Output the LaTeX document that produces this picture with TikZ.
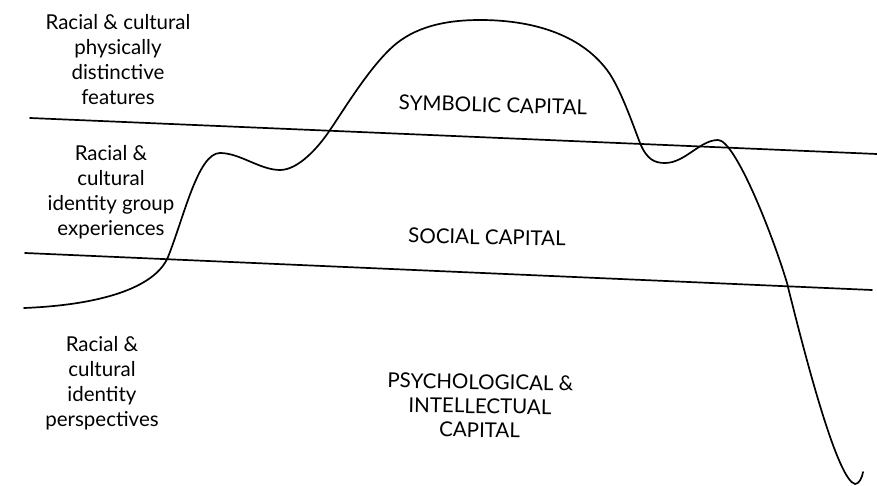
\documentclass[tikz,border=0pt]{standalone}
\usepackage{fontspec}
\setmainfont{Lato}
\begin{document}
\begin{tikzpicture}[x=1pt,y=-1pt,
  sideText/.style={align=center,font=\fontsize{20.5}{25}\selectfont},
  capText/.style={align=center,font=\fontsize{20.5}{24}\selectfont},
  ink/.style={line width=1.7pt,line cap=round,line join=round}]
\useasboundingbox (0,0) rectangle (877,486);
\coordinate (u1) at (30,118);
\coordinate (u2) at (877,154);
\coordinate (l1) at (25,253);
\coordinate (l2) at (872,290);
\draw[ink] (u1) -- (u2);
\draw[ink] (l1) -- (l2);
\draw[ink] (24,308)
  .. controls (100,305) and (155,288) .. (168,257)
  .. controls (184,217) and (198,153) .. (220,153)
  .. controls (240,153) and (260,170) .. (280,170)
  .. controls (298,170) and (318,148) .. (330,130)
  .. controls (345,108) and (372,63) .. (397,43)
  .. controls (420,25) and (450,20) .. (480,20)
  .. controls (530,20) and (579,33) .. (607,70)
  .. controls (620,87) and (633,125) .. (640,143)
  .. controls (647,160) and (655,163) .. (665,163)
  .. controls (685,163) and (700,140) .. (718,140)
  .. controls (735,140) and (772,233) .. (787,283)
  .. controls (808,368) and (838,480) .. (855,484)
  .. controls (859,484) and (862,478) .. (863,472);
\node[sideText] (feat) at (118,60) {Racial \& cultural\\physically\\distinctive\\features};
\node[sideText] (group) at (111,192) {Racial \&\\cultural\\identity group\\experiences};
\node[sideText] (persp) at (102,383) {Racial \&\\cultural\\identity\\perspectives};
\node[capText,rotate=-1.5] (sym) at (493,105) {SYMBOLIC CAPITAL};
\node[capText,rotate=-1] (soc) at (487,237) {SOCIAL CAPITAL};
\node[capText,rotate=-1] (psy) at (480,406) {PSYCHOLOGICAL \&\\INTELLECTUAL\\CAPITAL};
\end{tikzpicture}
\end{document}
